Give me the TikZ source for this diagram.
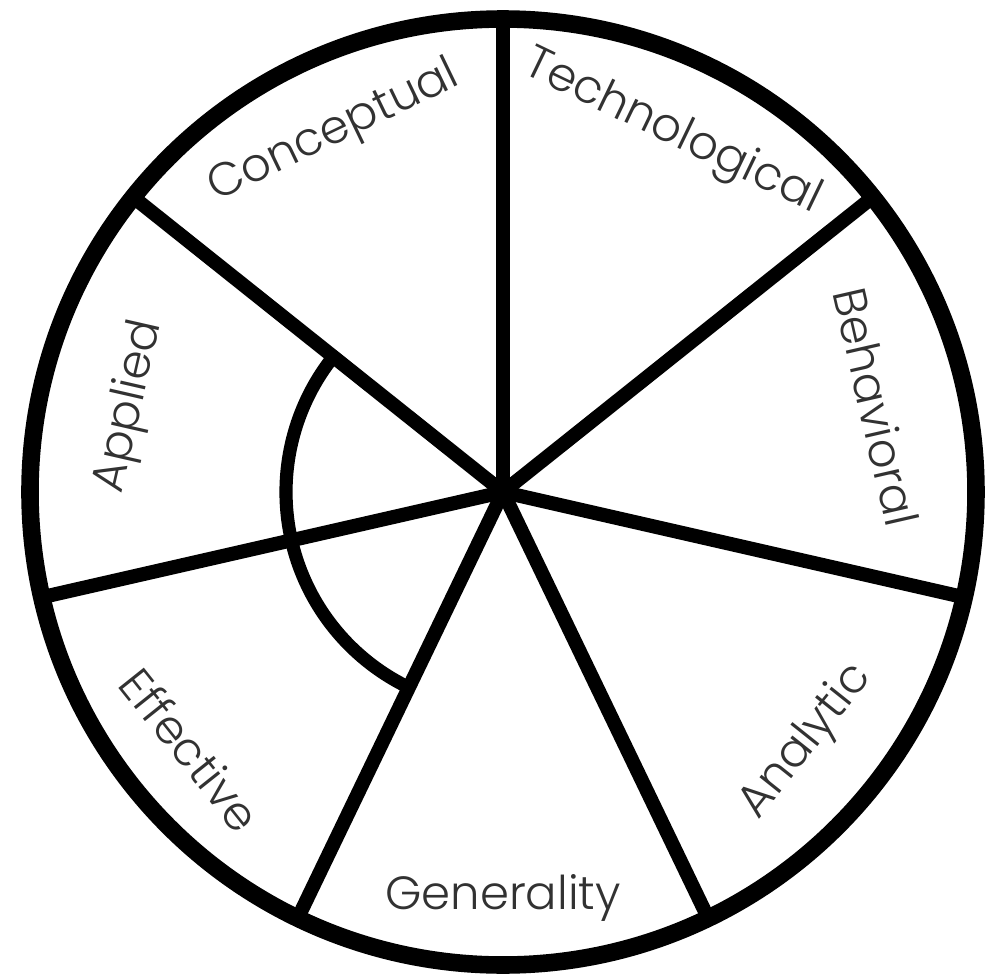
\documentclass[tikz,border=0pt]{standalone}
\usepackage{fontspec}
\IfFontExistsTF{Poppins Light}{\setmainfont{Poppins Light}}{\setmainfont{Poppins}}
\usepackage{tikz}
\usetikzlibrary{calc}
\definecolor{labelgray}{RGB}{50,50,50}

\begin{document}
\begin{tikzpicture}[x=0.02cm, y=0.02cm,
  rim/.style={line width=10pt},
  spoke/.style={line width=8pt},
  innerarc/.style={line width=7.5pt},
  seclabel/.style={font=\fontsize{26.5}{32}\selectfont, text=labelgray, inner sep=0pt}
]
\useasboundingbox (-503,-486) rectangle (485,492);
\coordinate (hub) at (0,0);
\coordinate (s1) at (90:473);
\coordinate (s2) at (38.57:473);
\coordinate (s3) at (-12.86:473);
\coordinate (s4) at (-64.29:473);
\coordinate (s5) at (-115.71:473);
\coordinate (s6) at (-167.14:473);
\coordinate (s7) at (141.43:473);
% spokes
\draw[spoke] (hub) -- (s1);
\draw[spoke] (hub) -- (s2);
\draw[spoke] (hub) -- (s3);
\draw[spoke] (hub) -- (s4);
\draw[spoke] (hub) -- (s5);
\draw[spoke] (hub) -- (s6);
\draw[spoke] (hub) -- (s7);
% inner arc between the upper-left and lower-left spokes
\coordinate (arcstart) at (141.43:217);
\draw[innerarc] (arcstart) arc[start angle=141.43, end angle=244.29, radius=217];
\draw[rim] (hub) circle[radius=473];
% sector labels
\node[seclabel, rotate=-25.71] (techno) at (64.8:397) {Technological};
\node[seclabel, rotate=-77.14] (behav) at (12.86:383) {Behavioral};
\node[seclabel, rotate=51.43] (analytic) at (-39.5:393) {Analytic};
\node[seclabel] (general) at (-90:406) {Generality};
\node[seclabel, rotate=-51.43] (effect) at (-140.5:405) {Effective};
\node[seclabel, rotate=77.14] (applied) at (167.14:383) {Applied};
\node[seclabel, rotate=25.71] (concept) at (115.2:397) {Conceptual};
\end{tikzpicture}
\end{document}
